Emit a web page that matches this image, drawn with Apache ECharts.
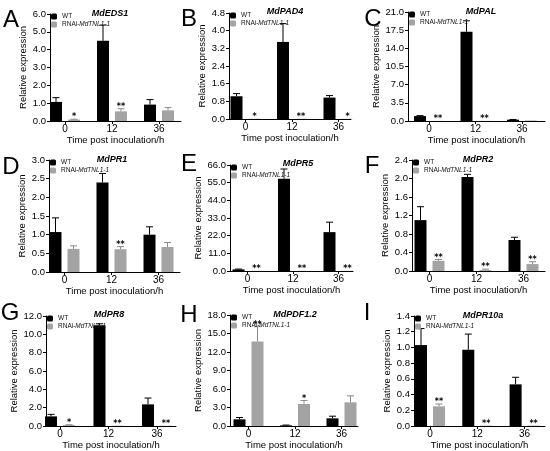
<!DOCTYPE html>
<html>
<head>
<meta charset="utf-8">
<script src="https://cdn.jsdelivr.net/npm/echarts@6/dist/echarts.min.js"></script>
<style>
html,body{margin:0;padding:0;background:#fff;}
#main{width:550px;height:451px;}
</style>
</head>
<body>
<div id="main"></div>
<script>
// ---- data ----
const timeLabels = ['0', '12', '36'];
const genes = ['MdEDS1', 'MdPAD4', 'MdPAL', 'MdPR1', 'MdPR5', 'MdPR2', 'MdPR8', 'MdPDF1.2', 'MdPR10a'];
const letters = ['A', 'B', 'C', 'D', 'E', 'F', 'G', 'H', 'I'];
const yMax = [6, 4.8, 21, 3, 66, 2.4, 12, 18, 1.4];
const yStep = [1, 0.8, 3.5, 0.5, 11, 0.4, 2, 3, 0.2];
const wtMean = [[1.07, 4.5, 0.92], [1.03, 3.49, 0.97], [0.95, 17.2, 0.25], [1.07, 2.4, 1.0], [1.0, 57.5, 24.2], [1.1, 2.03, 0.67], [1.05, 11.0, 2.36], [1.08, 0.1, 1.24], [1.03, 0.97, 0.53]];
const wtErr = [[0.24, 0.88, 0.28], [0.12, 0.83, 0.09], [0.08, 2.1, 0.03], [0.38, 0.24, 0.21], [0.2, 6, 6.2], [0.29, 0.06, 0.06], [0.22, 0.15, 0.69], [0.3, 0.05, 0.35], [0.21, 0.2, 0.09]];
const rnaiMean = [[0.08, 0.54, 0.6], [0.01, 0.01, 0.01], [0.02, 0.02, 0.1], [0.62, 0.61, 0.67], [0.1, 0.1, 0.1], [0.22, 0.02, 0.15], [0.1, 0.03, 0.03], [13.7, 3.57, 3.84], [0.25, 0.005, 0.005]];
const rnaiErr = [[0.02, 0.15, 0.15], [0, 0, 0], [0, 0, 0], [0.08, 0.07, 0.12], [0, 0, 0], [0.03, 0.02, 0.05], [0.04, 0, 0], [2.4, 0.55, 1.05], [0.03, 0, 0]];
const rnaiSig = [['*', '**', ''], ['*', '**', '*'], ['**', '**', ''], ['', '**', ''], ['**', '**', '**'], ['**', '**', '**'], ['*', '**', '**'], ['**', '*', ''], ['**', '**', '**']];
const wtName = 'WT';
const rnaiName = 'RNAi-MdTNL1-1';

// ---- layout (pixels) ----
const geo = [
  {ax: 50, c0: 65, s: 47, r: 181, t: 14, b: 121, tx: 110, ty: 14, lx: 11, ly: 19},
  {ax: 229, c0: 245.5, s: 46.5, r: 351, t: 13, b: 119, tx: 285, ty: 12, lx: 189, ly: 18},
  {ax: 408, c0: 429, s: 46.5, r: 545, t: 12, b: 121, tx: 481, ty: 12, lx: 373, ly: 18},
  {ax: 49, c0: 64.5, s: 47, r: 180, t: 160, b: 272, tx: 112, ty: 160, lx: 11, ly: 166},
  {ax: 230, c0: 247.5, s: 45.5, r: 353, t: 165, b: 271, tx: 298, ty: 164, lx: 189, ly: 163},
  {ax: 412, c0: 429.5, s: 47, r: 545, t: 160, b: 271, tx: 478, ty: 160, lx: 372, ly: 165},
  {ax: 46, c0: 60, s: 48.5, r: 176, t: 316, b: 426, tx: 109, ty: 315, lx: 10, ly: 312},
  {ax: 230, c0: 248.5, s: 46.5, r: 358, t: 315, b: 426, tx: 295, ty: 315, lx: 189, ly: 314},
  {ax: 414, c0: 430, s: 47.3, r: 545, t: 316, b: 426, tx: 483, ty: 316, lx: 367, ly: 312}
];

const WT_COLOR = '#000000';
const RNAI_COLOR = '#a3a3a3';
const FONT = 'Liberation Sans, Arial, sans-serif';
const BAR_W = 12;
const HALF_OFF = 9;

const grids = [], xAxes = [], yAxes = [], series = [], legends = [], graphics = [];

function errRender(sigs, off, color) {
  return function (params, api) {
    const i = api.value(0), m = api.value(1), e = api.value(2);
    const base = api.coord([i, m]);
    const top = api.coord([i, m + e]);
    const x = base[0] + off;
    const children = [];
    if (e > 0) {
      children.push({type: 'line', shape: {x1: x, y1: base[1], x2: x, y2: top[1]}, style: {stroke: color, lineWidth: 1}});
      children.push({type: 'line', shape: {x1: x - 3.5, y1: top[1], x2: x + 3.5, y2: top[1]}, style: {stroke: color, lineWidth: 1}});
    }
    const sg = sigs ? sigs[params.dataIndex] : '';
    if (sg) {
      children.push({type: 'text', x: x, y: top[1] + 2, style: {text: sg, fill: '#000', fontSize: 8, fontWeight: 'bold', fontFamily: 'DejaVu Sans', align: 'center', verticalAlign: 'bottom'}});
    }
    return {type: 'group', children: children};
  };
}

for (let k = 0; k < 9; k++) {
  const g = geo[k];
  grids.push({left: g.ax, top: g.t, width: g.r - g.ax, height: g.b - g.t, containLabel: false});
  xAxes.push({
    type: 'value', gridIndex: k,
    min: -(g.c0 - g.ax) / g.s, max: (g.r - g.c0) / g.s,
    axisLine: {show: true, onZero: false, lineStyle: {color: '#000', width: 1}},
    axisTick: {show: true, length: 3, customValues: [0, 1, 2], lineStyle: {color: '#000'}},
    axisLabel: {customValues: [0, 1, 2], formatter: v => timeLabels[Math.round(v)], fontSize: 10, color: '#000', margin: 3, fontFamily: FONT},
    splitLine: {show: false},
    name: 'Time post inoculation/h', nameLocation: 'middle', nameGap: 13,
    nameTextStyle: {fontSize: 9.5, color: '#000', fontFamily: FONT}
  });
  yAxes.push({
    type: 'value', gridIndex: k, min: 0, max: yMax[k], interval: yStep[k],
    axisLine: {show: true, onZero: false, lineStyle: {color: '#000', width: 1}},
    axisTick: {show: true, length: 3, lineStyle: {color: '#000'}},
    axisLabel: {formatter: v => v.toFixed(1), fontSize: 9.5, color: '#000', margin: 4, fontFamily: FONT},
    splitLine: {show: false},
    name: 'Relative expression', nameLocation: 'middle', nameGap: 22,
    nameTextStyle: {fontSize: 9.5, color: '#000', fontFamily: FONT}
  });
  series.push({
    type: 'bar', name: wtName, xAxisIndex: k, yAxisIndex: k,
    data: wtMean[k].map((v, i) => [i, v]),
    barWidth: BAR_W, barGap: '50%', itemStyle: {color: WT_COLOR}, z: 2
  });
  series.push({
    type: 'bar', name: rnaiName, xAxisIndex: k, yAxisIndex: k,
    data: rnaiMean[k].map((v, i) => [i, v]),
    barWidth: BAR_W, barGap: '50%', itemStyle: {color: RNAI_COLOR}, z: 2
  });
  series.push({
    type: 'custom', name: 'errWT' + k, xAxisIndex: k, yAxisIndex: k,
    renderItem: errRender(null, -HALF_OFF, '#000'),
    encode: {x: 0, y: 1},
    data: wtMean[k].map((v, i) => [i, v, wtErr[k][i]]), z: 3, silent: true
  });
  series.push({
    type: 'custom', name: 'errRNAi' + k, xAxisIndex: k, yAxisIndex: k,
    renderItem: errRender(rnaiSig[k], HALF_OFF, '#8a8a8a'),
    encode: {x: 0, y: 1},
    data: rnaiMean[k].map((v, i) => [i, v, rnaiErr[k][i]]), z: 3, silent: true
  });
  legends.push({
    orient: 'vertical', left: g.ax + 1, top: g.t - 1, padding: 0,
    itemWidth: 6, itemHeight: 6, itemGap: 1, selectedMode: false,
    data: [wtName, rnaiName],
    formatter: n => n === rnaiName ? '{a|RNAi-}{b|MdTNL1-1}' : '{a|WT}',
    textStyle: {
      fontSize: 6.5, color: '#111', fontFamily: FONT, lineHeight: 6.5,
      rich: {a: {fontSize: 6.5, fontFamily: FONT, color: '#111'}, b: {fontSize: 6.5, fontStyle: 'italic', fontFamily: FONT, color: '#111'}}
    }
  });
  graphics.push({
    type: 'text', x: g.tx, y: g.ty,
    style: {text: genes[k], fontSize: 9, fontWeight: 'bold', fontStyle: 'italic', fontFamily: FONT, fill: '#000', align: 'center', verticalAlign: 'middle'}
  });
  graphics.push({
    type: 'text', x: g.lx, y: g.ly + 1,
    style: {text: letters[k], fontSize: 24, fontFamily: FONT, fill: '#000', align: 'center', verticalAlign: 'middle'}
  });
}

const chart = echarts.init(document.getElementById('main'), null, {renderer: 'canvas'});
chart.setOption({
  animation: false,
  backgroundColor: '#fff',
  grid: grids, xAxis: xAxes, yAxis: yAxes, series: series, legend: legends,
  graphic: graphics
});
</script>
</body>
</html>
